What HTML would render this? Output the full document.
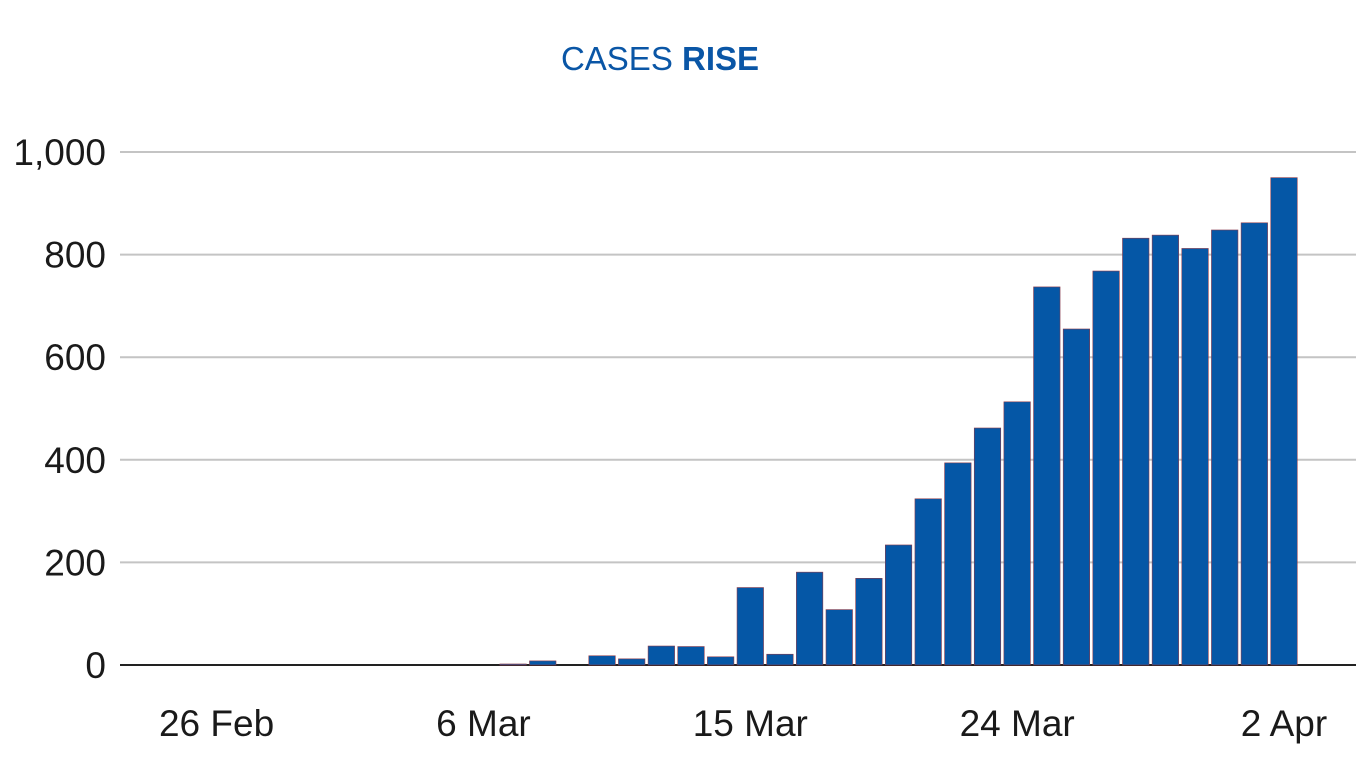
<!DOCTYPE html>
<html><head><meta charset="utf-8"><style>
html,body{margin:0;padding:0;background:#fff;width:1366px;height:768px;overflow:hidden}
svg{display:block}
</style></head><body>
<svg id="chart" width="1366" height="768">
<text x="660" y="70" text-anchor="middle" font-family="Liberation Sans, sans-serif" font-size="33" fill="#0a56a6">CASES <tspan font-weight="bold">RISE</tspan></text>
<g id="grid"></g><g id="bars"></g><g id="xlabels"></g>
</svg>
<script>
const dates = ["26 Feb","27 Feb","28 Feb","29 Feb","1 Mar","2 Mar","3 Mar","4 Mar","5 Mar","6 Mar","7 Mar","8 Mar","9 Mar","10 Mar","11 Mar","12 Mar","13 Mar","14 Mar","15 Mar","16 Mar","17 Mar","18 Mar","19 Mar","20 Mar","21 Mar","22 Mar","23 Mar","24 Mar","25 Mar","26 Mar","27 Mar","28 Mar","29 Mar","30 Mar","31 Mar","1 Apr","2 Apr"];
const cases = [0,0,0,0,0,0,0,0,0,0,2,8,0,18,12,37,36,16,151,21,181,108,169,234,324,394,462,513,737,655,768,832,838,812,848,862,950];
const yTicks = [0,200,400,600,800,1000];
const yTickLabels = ["0","200","400","600","800","1,000"];
const xTickLabels = ["26 Feb","6 Mar","15 Mar","24 Mar","2 Apr"];
const NS="http://www.w3.org/2000/svg";
const y0=665,yTop=152,yMax=1000;
const y=v=>y0-(v/yMax)*(y0-yTop);
const x0=216.6,step=29.65,bw=26.5;
const x=i=>x0+i*step;
function mk(t,a){const e=document.createElementNS(NS,t);for(const k in a)e.setAttribute(k,a[k]);return e;}
const grid=document.getElementById('grid');
yTicks.forEach((v,i)=>{
  const l=mk('line',{x1:120,x2:1356,y1:y(v),y2:y(v),stroke:v===0?'#222':'#c4c4c4','stroke-width':2});
  
  
  grid.appendChild(l);
  const t=mk('text',{x:106,y:y(v)+13,'text-anchor':'end','font-family':'Liberation Sans, sans-serif','font-size':37,fill:'#1a1a1a'});
  t.textContent=yTickLabels[i];
  
  
  grid.appendChild(t);
});
const bars=document.getElementById('bars');
cases.forEach((v,i)=>{
  if(v<=0)return;
  const r=mk('rect',{x:x(i)-bw/2,y:y(v),width:bw,height:y0-y(v),fill:'#0557a6',stroke:'#8a3a4a','stroke-width':0.6});
  
  
  bars.appendChild(r);
});
const xl=document.getElementById('xlabels');
xTickLabels.forEach(s=>{
  const i=dates.indexOf(s);
  const t=mk('text',{x:x(i),y:736,'text-anchor':'middle','font-family':'Liberation Sans, sans-serif','font-size':37,fill:'#1a1a1a'});
  t.textContent=s;
  
  
  xl.appendChild(t);
});
</script>
</body></html>
